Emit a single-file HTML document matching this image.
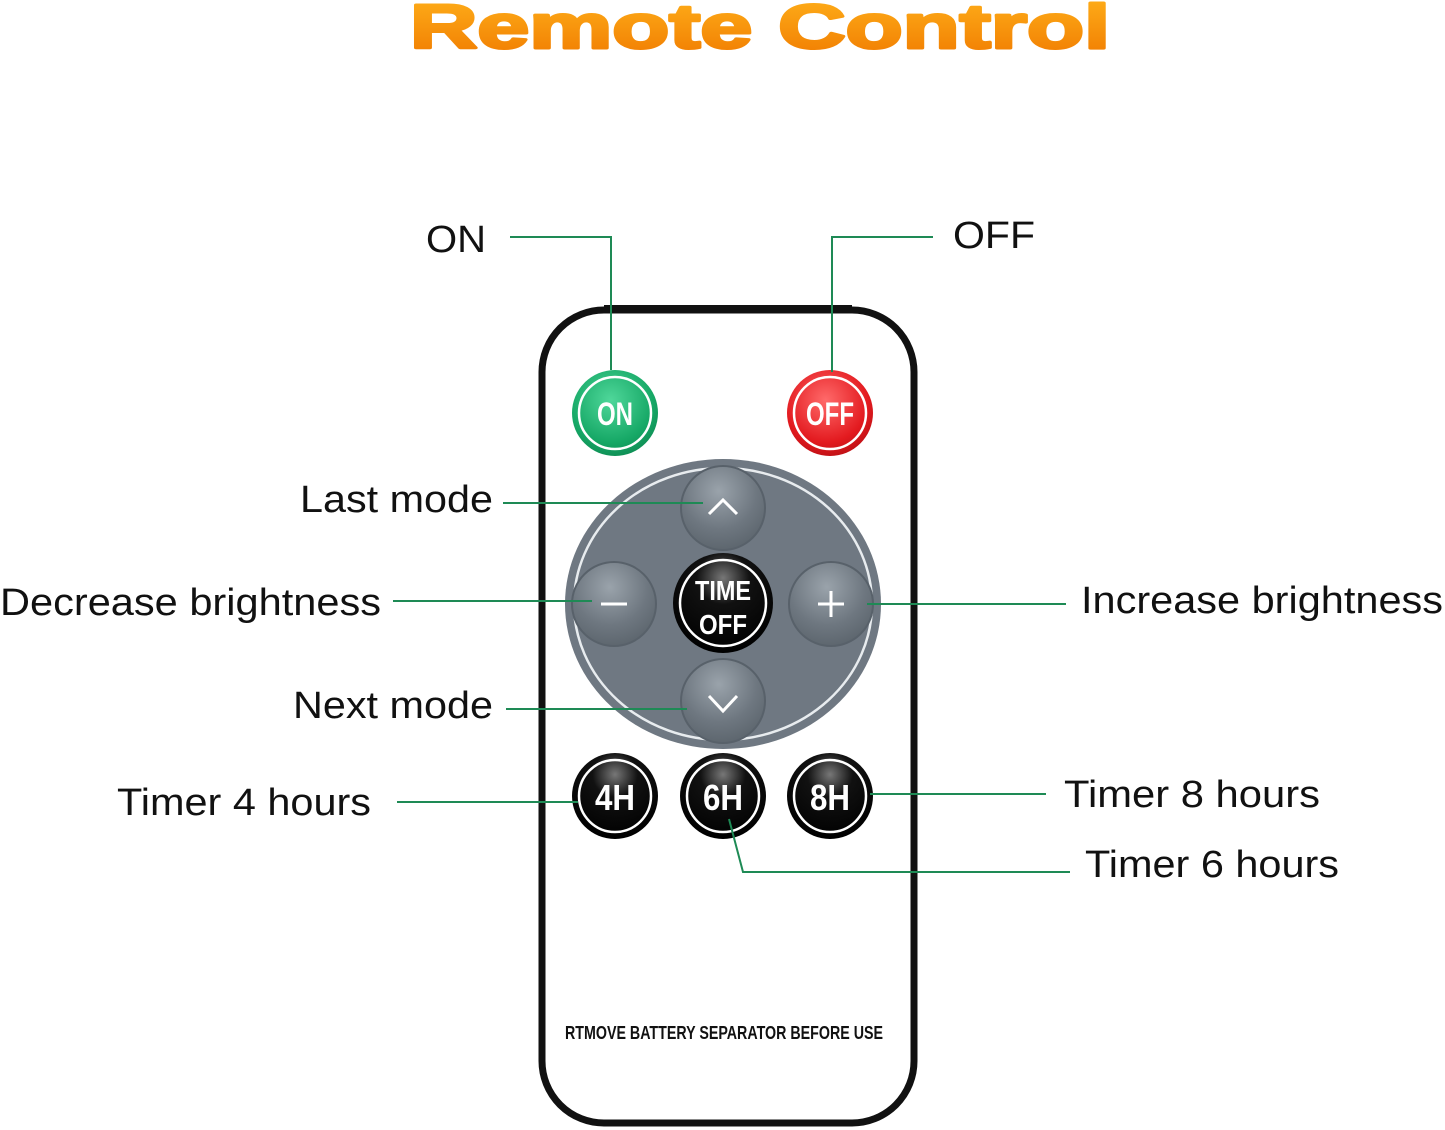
<!DOCTYPE html>
<html><head><meta charset="utf-8"><style>
html,body{margin:0;padding:0;background:#fff;}
svg{display:block;}
text{font-family:"Liberation Sans",sans-serif;}
</style></head><body>
<svg width="1445" height="1130" viewBox="0 0 1445 1130" xmlns="http://www.w3.org/2000/svg">
<defs>
<linearGradient id="og" x1="0" y1="0" x2="0" y2="1">
<stop offset="0" stop-color="#ffb01a"/><stop offset="1" stop-color="#f07a00"/>
</linearGradient>
<radialGradient id="gg" cx="0.45" cy="0.35" r="0.7">
<stop offset="0" stop-color="#4fd79a"/><stop offset="0.7" stop-color="#16a866"/><stop offset="1" stop-color="#0e8a52"/>
</radialGradient>
<radialGradient id="rg" cx="0.45" cy="0.35" r="0.7">
<stop offset="0" stop-color="#ff6a6a"/><stop offset="0.7" stop-color="#e31a1f"/><stop offset="1" stop-color="#b90f14"/>
</radialGradient>
<radialGradient id="bg" cx="0.5" cy="0.25" r="0.75">
<stop offset="0" stop-color="#777"/><stop offset="0.35" stop-color="#111"/><stop offset="1" stop-color="#000"/>
</radialGradient>
<radialGradient id="gr" cx="0.45" cy="0.3" r="0.75">
<stop offset="0" stop-color="#9aa3ab"/><stop offset="0.6" stop-color="#6e7780"/><stop offset="1" stop-color="#5a636b"/>
</radialGradient>
</defs>

<text x="410" y="48" font-size="62" font-weight="bold" fill="url(#og)" stroke="url(#og)" stroke-width="3" stroke-linejoin="round" textLength="700" lengthAdjust="spacingAndGlyphs">Remote  Control</text>

<rect x="542" y="310" width="372" height="813" rx="62" fill="#fff" stroke="#111" stroke-width="7"/>
<line x1="604" y1="309" x2="852" y2="309" stroke="#111" stroke-width="8"/>

<ellipse cx="723" cy="604" rx="158" ry="145" fill="#6f7882"/>
<ellipse cx="723" cy="604" rx="149" ry="136" fill="none" stroke="#e8ecef" stroke-width="2.5"/>

<g fill="url(#gr)" stroke="#58616a" stroke-width="2">
<circle cx="723" cy="508" r="42"/>
<circle cx="723" cy="701" r="42"/>
<circle cx="614" cy="604" r="42"/>
<circle cx="831" cy="604" r="42"/>
</g>
<g stroke="#fff" stroke-width="3" fill="none">
<polyline points="709,514 723,500 737,514"/>
<polyline points="709,696 723,711 737,696"/>
<line x1="601" y1="604" x2="627" y2="604"/>
<line x1="818" y1="604" x2="844" y2="604"/>
<line x1="831" y1="591" x2="831" y2="617"/>
</g>

<circle cx="723" cy="603" r="50" fill="url(#bg)"/>
<circle cx="723" cy="603" r="43" fill="none" stroke="#fff" stroke-width="2.5"/>
<text x="723" y="600" font-size="28" font-weight="bold" fill="#fff" text-anchor="middle" textLength="56" lengthAdjust="spacingAndGlyphs">TIME</text>
<text x="723" y="634" font-size="28" font-weight="bold" fill="#fff" text-anchor="middle" textLength="48" lengthAdjust="spacingAndGlyphs">OFF</text>

<circle cx="615" cy="413" r="43" fill="url(#gg)"/>
<circle cx="615" cy="413" r="36" fill="none" stroke="#fff" stroke-width="2.5"/>
<text x="615" y="425" font-size="32" font-weight="bold" fill="#fff" text-anchor="middle" textLength="36" lengthAdjust="spacingAndGlyphs">ON</text>
<circle cx="830" cy="413" r="43" fill="url(#rg)"/>
<circle cx="830" cy="413" r="36" fill="none" stroke="#fff" stroke-width="2.5"/>
<text x="830" y="425" font-size="32" font-weight="bold" fill="#fff" text-anchor="middle" textLength="48" lengthAdjust="spacingAndGlyphs">OFF</text>

<g>
<circle cx="615" cy="796" r="43" fill="url(#bg)"/>
<circle cx="615" cy="796" r="36" fill="none" stroke="#fff" stroke-width="2.5"/>
<text x="615" y="810" font-size="36" font-weight="bold" fill="#fff" text-anchor="middle" textLength="40" lengthAdjust="spacingAndGlyphs">4H</text>
<circle cx="723" cy="796" r="43" fill="url(#bg)"/>
<circle cx="723" cy="796" r="36" fill="none" stroke="#fff" stroke-width="2.5"/>
<text x="723" y="810" font-size="36" font-weight="bold" fill="#fff" text-anchor="middle" textLength="40" lengthAdjust="spacingAndGlyphs">6H</text>
<circle cx="830" cy="796" r="43" fill="url(#bg)"/>
<circle cx="830" cy="796" r="36" fill="none" stroke="#fff" stroke-width="2.5"/>
<text x="830" y="810" font-size="36" font-weight="bold" fill="#fff" text-anchor="middle" textLength="40" lengthAdjust="spacingAndGlyphs">8H</text>
</g>

<text x="724" y="1039" font-size="18" font-weight="bold" fill="#111" text-anchor="middle" textLength="318" lengthAdjust="spacingAndGlyphs">RTMOVE BATTERY SEPARATOR BEFORE USE</text>

<g stroke="#1e8a55" stroke-width="2" fill="none">
<polyline points="510,237 611,237 611,370"/>
<polyline points="933,237 832,237 832,372"/>
<line x1="503" y1="503" x2="703" y2="503"/>
<line x1="393" y1="601" x2="592" y2="601"/>
<line x1="867" y1="604" x2="1066" y2="604"/>
<line x1="506" y1="709" x2="687" y2="709"/>
<line x1="397" y1="802" x2="578" y2="802"/>
<line x1="870" y1="794" x2="1046" y2="794"/>
<polyline points="729,819 743,872 1070,872"/>
</g>

<g font-size="38" fill="#111">
<text x="426" y="252" textLength="60" lengthAdjust="spacingAndGlyphs">ON</text>
<text x="953" y="248" textLength="82" lengthAdjust="spacingAndGlyphs">OFF</text>
<text x="300" y="512" textLength="193" lengthAdjust="spacingAndGlyphs">Last mode</text>
<text x="0" y="615" textLength="381" lengthAdjust="spacingAndGlyphs">Decrease brightness</text>
<text x="1081" y="613" textLength="362" lengthAdjust="spacingAndGlyphs">Increase brightness</text>
<text x="293" y="718" textLength="200" lengthAdjust="spacingAndGlyphs">Next mode</text>
<text x="117" y="815" textLength="254" lengthAdjust="spacingAndGlyphs">Timer 4 hours</text>
<text x="1064" y="807" textLength="256" lengthAdjust="spacingAndGlyphs">Timer 8 hours</text>
<text x="1085" y="877" textLength="254" lengthAdjust="spacingAndGlyphs">Timer 6 hours</text>
</g>
</svg>
</body></html>
